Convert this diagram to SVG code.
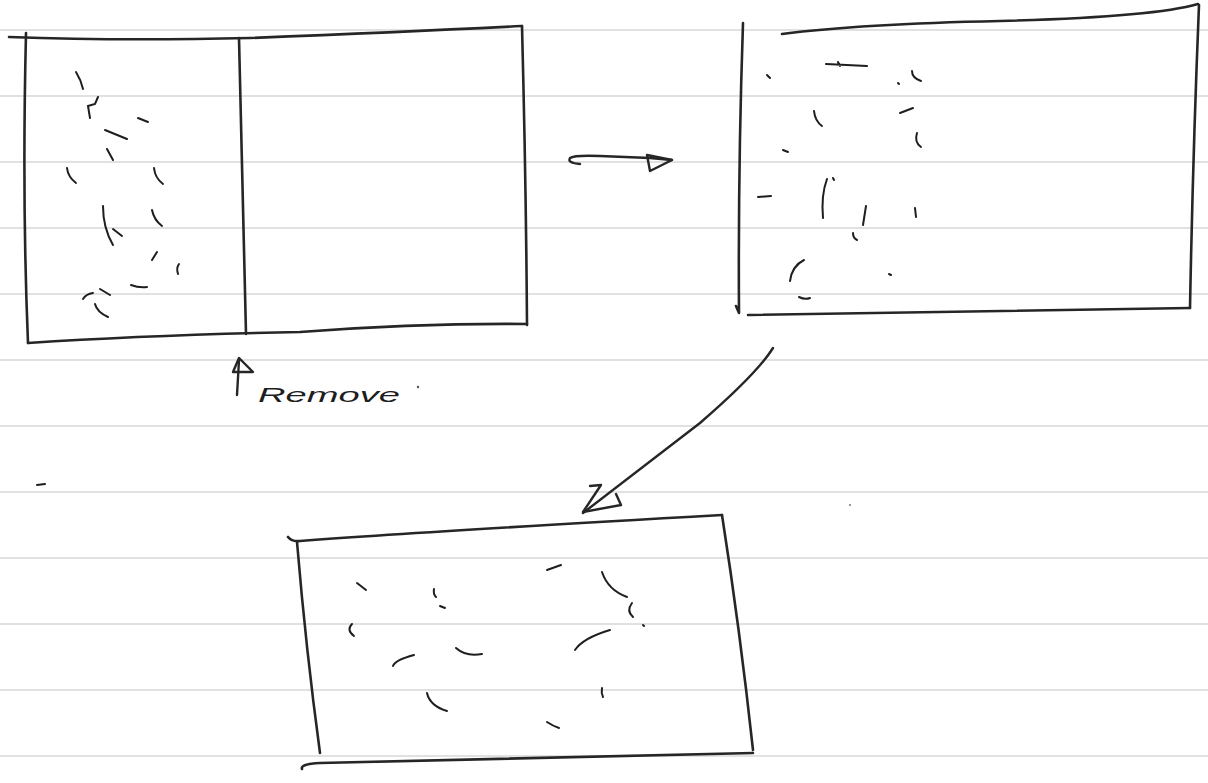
<svg xmlns="http://www.w3.org/2000/svg" width="1208" height="783" viewBox="0 0 1208 783">
<style>
.paper{stroke:#c4c4c4;stroke-width:1.2;fill:none}
.box{stroke:#262626;stroke-width:2.6;fill:none;stroke-linecap:round;stroke-linejoin:round}
.mark{stroke:#1e1e1e;stroke-width:2;fill:none;stroke-linecap:round}
.conn{stroke:#262626;stroke-width:2.4;fill:none;stroke-linecap:round;stroke-linejoin:round}
.label{font-family:"Liberation Sans",Arial,sans-serif;font-size:20px;fill:#1e1e1e;font-style:italic}
</style>
<rect width="1208" height="783" fill="#ffffff"/>
<g id="paper-lines">
<line class="paper" x1="0" y1="30" x2="1208" y2="30"/>
<line class="paper" x1="0" y1="96" x2="1208" y2="96"/>
<line class="paper" x1="0" y1="162" x2="1208" y2="162"/>
<line class="paper" x1="0" y1="228" x2="1208" y2="228"/>
<line class="paper" x1="0" y1="294" x2="1208" y2="294"/>
<line class="paper" x1="0" y1="360" x2="1208" y2="360"/>
<line class="paper" x1="0" y1="426" x2="1208" y2="426"/>
<line class="paper" x1="0" y1="492" x2="1208" y2="492"/>
<line class="paper" x1="0" y1="558" x2="1208" y2="558"/>
<line class="paper" x1="0" y1="624" x2="1208" y2="624"/>
<line class="paper" x1="0" y1="690" x2="1208" y2="690"/>
<line class="paper" x1="0" y1="756" x2="1208" y2="756"/>
</g>
<g id="node-split-sheet">
<path class="box" d="M9,37 Q120,41 250,38 Q400,32 522,26"/>
<path class="box" d="M26,33 Q22,200 28,343"/>
<path class="box" d="M522,26 Q526,180 527,325"/>
<path class="box" d="M28,343 Q150,335 300,332 Q420,323 527,324"/>
<path class="box" d="M239,38 Q243,180 246,334"/>
<path class="mark" d="M76,72 Q81,80 83,89"/>
<path class="mark" d="M98,97 L95,104 L88,106 L90,118"/>
<path class="mark" d="M138,118 L148,122"/>
<path class="mark" d="M105,130 L127,139"/>
<path class="mark" d="M107,149 L113,160"/>
<path class="mark" d="M67,168 Q68,177 76,183"/>
<path class="mark" d="M154,168 Q155,178 163,184"/>
<path class="mark" d="M103,206 Q103,228 113,245"/>
<path class="mark" d="M113,229 L122,236"/>
<path class="mark" d="M152,210 Q154,220 162,226"/>
<path class="mark" d="M157,252 L152,260"/>
<path class="mark" d="M179,264 Q176,268 178,274"/>
<path class="mark" d="M131,285 Q139,288 147,287"/>
<path class="mark" d="M100,289 L110,295"/>
<path class="mark" d="M83,299 Q86,294 93,293"/>
<path class="mark" d="M95,304 Q97,312 108,317"/>
</g>
<g id="node-result-sheet">
<path class="box" d="M782,34 Q860,24 1000,21 Q1153,17 1198,4"/>
<path class="box" d="M743,23 Q738,170 739,313 L736,306"/>
<path class="box" d="M1199,5 Q1193,150 1190,308"/>
<path class="box" d="M748,315 Q970,312 1190,308"/>
<path class="mark" d="M826,64 L867,66 M838,62 L840,66"/>
<path class="mark" d="M767,75 L770,78"/>
<path class="mark" d="M912,71 Q912,78 921,81" stroke-width="2.6"/>
<path class="mark" d="M898,83 L899,84"/>
<path class="mark" d="M900,113 L913,108"/>
<path class="mark" d="M814,111 Q815,121 822,126"/>
<path class="mark" d="M917,133 Q914,142 921,147" stroke-width="2.6"/>
<path class="mark" d="M783,150 L788,152"/>
<path class="mark" d="M758,197 L771,196"/>
<path class="mark" d="M827,179 Q821,195 823,218"/>
<path class="mark" d="M833,178 L834,180"/>
<path class="mark" d="M866,206 L863,225" stroke-width="2.4"/>
<path class="mark" d="M915,208 L916,217" stroke-width="2.6"/>
<path class="mark" d="M853,233 Q853,238 857,240"/>
<path class="mark" d="M804,260 Q792,266 790,281"/>
<path class="mark" d="M889,274 L891,275" stroke-width="2.6"/>
<path class="mark" d="M799,297 Q805,300 810,298"/>
</g>
<g id="node-final-sheet">
<path class="box" d="M288,537 Q292,542 300,541 Q420,532 722,515"/>
<path class="box" d="M297,542 Q306,650 320,753"/>
<path class="box" d="M722,515 Q740,630 753,750"/>
<path class="box" d="M302,769 Q300,764 320,763 Q500,759 753,753"/>
<path class="mark" d="M357,583 L366,590" stroke-width="2.6"/>
<path class="mark" d="M434,589 Q433,594 436,597" stroke-width="2.6"/>
<path class="mark" d="M440,606 L445,608" stroke-width="2.6"/>
<path class="mark" d="M352,624 Q346,630 354,636"/>
<path class="mark" d="M393,666 Q395,660 414,655"/>
<path class="mark" d="M456,648 Q466,657 482,654"/>
<path class="mark" d="M547,570 L561,565"/>
<path class="mark" d="M602,572 Q608,590 627,597"/>
<path class="mark" d="M632,603 Q626,611 633,617" stroke-width="2.6"/>
<path class="mark" d="M643,625 L644,626"/>
<path class="mark" d="M575,650 Q583,638 610,630"/>
<path class="mark" d="M602,688 Q601,693 603,697" stroke-width="2.6"/>
<path class="mark" d="M427,693 Q430,706 447,711"/>
<path class="mark" d="M547,722 Q553,726 559,728"/>
</g>
<g id="node-remove-label">
<path class="conn" d="M237,395 L239,360"/>
<path class="conn" d="M233,372 L239,358 L253,372 Z"/>
<text class="label" x="258" y="402" textLength="142" lengthAdjust="spacingAndGlyphs">Remove</text>
<circle cx="418" cy="387" r="1.2" fill="#555"/>
</g>
<g id="connectors">
<path class="conn" d="M580,164 Q567,163 570,158 Q574,155 600,156 L650,158 L672,160"/>
<path class="conn" d="M647,155 L650,171 L672,160 Z"/>
<path class="conn" d="M773,348 C763,364 745,384 700,423 L583,513"/>
<path class="conn" d="M590,486 L601,485 L583,512 L621,505 L616,494"/>
</g>
<g id="specks">
<path class="mark" d="M37,485 L45,484" stroke="#777" stroke-width="1.2"/>
<circle cx="850" cy="505" r="1" fill="#777"/>
</g>
</svg>
